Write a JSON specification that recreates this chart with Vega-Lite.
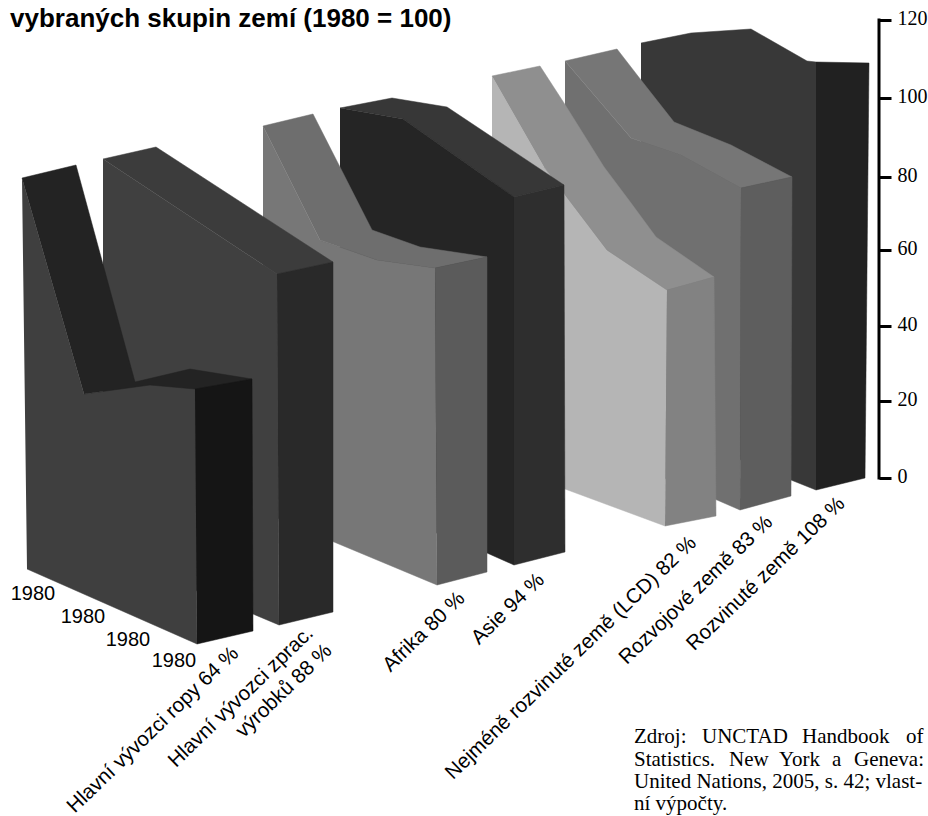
{"$schema":"https://vega.github.io/schema/vega-lite/v6.json","width":928,"height":816,"padding":0,"autosize":{"type":"none"},"background":"white","config":{"view":{"stroke":null}},
"datasets":{
"poly":[
{"p":"Rozvinuté bok","o":1,"x":641,"y":43},{"p":"Rozvinuté bok","o":2,"x":691,"y":33},{"p":"Rozvinuté bok","o":3,"x":751,"y":29},{"p":"Rozvinuté bok","o":4,"x":807,"y":61},{"p":"Rozvinuté bok","o":5,"x":816,"y":62},{"p":"Rozvinuté bok","o":6,"x":816,"y":490},{"p":"Rozvinuté bok","o":7,"x":791,"y":480},{"p":"Rozvinuté bok","o":8,"x":641,"y":420},
{"p":"Rozvinuté čelo","o":1,"x":816,"y":62},{"p":"Rozvinuté čelo","o":2,"x":869,"y":63},{"p":"Rozvinuté čelo","o":3,"x":865,"y":478},{"p":"Rozvinuté čelo","o":4,"x":816,"y":490},
{"p":"Rozvojové bok","o":1,"x":565,"y":61},{"p":"Rozvojové bok","o":2,"x":631,"y":138},{"p":"Rozvojové bok","o":3,"x":681,"y":155},{"p":"Rozvojové bok","o":4,"x":741,"y":188},{"p":"Rozvojové bok","o":5,"x":740,"y":510},{"p":"Rozvojové bok","o":6,"x":717,"y":500},{"p":"Rozvojové bok","o":7,"x":565,"y":437},
{"p":"Rozvojové vrch","o":1,"x":565,"y":61},{"p":"Rozvojové vrch","o":2,"x":617,"y":49},{"p":"Rozvojové vrch","o":3,"x":641,"y":80},{"p":"Rozvojové vrch","o":4,"x":674,"y":122},{"p":"Rozvojové vrch","o":5,"x":731,"y":145},{"p":"Rozvojové vrch","o":6,"x":792,"y":177},{"p":"Rozvojové vrch","o":7,"x":741,"y":188},{"p":"Rozvojové vrch","o":8,"x":681,"y":155},{"p":"Rozvojové vrch","o":9,"x":631,"y":138},
{"p":"Rozvojové čelo","o":1,"x":741,"y":188},{"p":"Rozvojové čelo","o":2,"x":792,"y":177},{"p":"Rozvojové čelo","o":3,"x":791,"y":496},{"p":"Rozvojové čelo","o":4,"x":740,"y":510},
{"p":"LCD bok","o":1,"x":492,"y":76},{"p":"LCD bok","o":2,"x":544,"y":167},{"p":"LCD bok","o":3,"x":607,"y":250},{"p":"LCD bok","o":4,"x":667,"y":290},{"p":"LCD bok","o":5,"x":665,"y":526},{"p":"LCD bok","o":6,"x":565,"y":489},{"p":"LCD bok","o":7,"x":492,"y":460},
{"p":"LCD vrch","o":1,"x":492,"y":76},{"p":"LCD vrch","o":2,"x":540,"y":66},{"p":"LCD vrch","o":3,"x":564,"y":103},{"p":"LCD vrch","o":4,"x":604,"y":167},{"p":"LCD vrch","o":5,"x":631,"y":203},{"p":"LCD vrch","o":6,"x":656,"y":237},{"p":"LCD vrch","o":7,"x":714,"y":277},{"p":"LCD vrch","o":8,"x":667,"y":290},{"p":"LCD vrch","o":9,"x":607,"y":250},{"p":"LCD vrch","o":10,"x":544,"y":167},
{"p":"LCD čelo","o":1,"x":667,"y":290},{"p":"LCD čelo","o":2,"x":714,"y":277},{"p":"LCD čelo","o":3,"x":716,"y":516},{"p":"LCD čelo","o":4,"x":665,"y":526},
{"p":"Asie vrch","o":1,"x":340,"y":108},{"p":"Asie vrch","o":2,"x":392,"y":98},{"p":"Asie vrch","o":3,"x":447,"y":107},{"p":"Asie vrch","o":4,"x":564,"y":185},{"p":"Asie vrch","o":5,"x":514,"y":197},{"p":"Asie vrch","o":6,"x":403,"y":119},
{"p":"Asie bok","o":1,"x":340,"y":108},{"p":"Asie bok","o":2,"x":403,"y":119},{"p":"Asie bok","o":3,"x":514,"y":197},{"p":"Asie bok","o":4,"x":514,"y":565},{"p":"Asie bok","o":5,"x":487,"y":553},{"p":"Asie bok","o":6,"x":340,"y":495},
{"p":"Asie čelo","o":1,"x":514,"y":197},{"p":"Asie čelo","o":2,"x":564,"y":185},{"p":"Asie čelo","o":3,"x":565,"y":552},{"p":"Asie čelo","o":4,"x":514,"y":565},
{"p":"Afrika bok","o":1,"x":263,"y":126},{"p":"Afrika bok","o":2,"x":320,"y":240},{"p":"Afrika bok","o":3,"x":377,"y":260},{"p":"Afrika bok","o":4,"x":435,"y":268},{"p":"Afrika bok","o":5,"x":437,"y":585},{"p":"Afrika bok","o":6,"x":334,"y":542},{"p":"Afrika bok","o":7,"x":263,"y":512},
{"p":"Afrika vrch","o":1,"x":263,"y":126},{"p":"Afrika vrch","o":2,"x":313,"y":114},{"p":"Afrika vrch","o":3,"x":372,"y":230},{"p":"Afrika vrch","o":4,"x":420,"y":247},{"p":"Afrika vrch","o":5,"x":487,"y":257},{"p":"Afrika vrch","o":6,"x":435,"y":268},{"p":"Afrika vrch","o":7,"x":377,"y":260},{"p":"Afrika vrch","o":8,"x":320,"y":240},
{"p":"Afrika čelo","o":1,"x":435,"y":268},{"p":"Afrika čelo","o":2,"x":487,"y":257},{"p":"Afrika čelo","o":3,"x":487,"y":572},{"p":"Afrika čelo","o":4,"x":437,"y":585},
{"p":"Zprac bok","o":1,"x":103,"y":159},{"p":"Zprac bok","o":2,"x":277,"y":274},{"p":"Zprac bok","o":3,"x":279,"y":625},{"p":"Zprac bok","o":4,"x":253,"y":614},{"p":"Zprac bok","o":5,"x":103,"y":552},
{"p":"Zprac vrch","o":1,"x":103,"y":159},{"p":"Zprac vrch","o":2,"x":156,"y":147},{"p":"Zprac vrch","o":3,"x":333,"y":262},{"p":"Zprac vrch","o":4,"x":277,"y":274},
{"p":"Zprac čelo","o":1,"x":277,"y":274},{"p":"Zprac čelo","o":2,"x":333,"y":262},{"p":"Zprac čelo","o":3,"x":333,"y":612},{"p":"Zprac čelo","o":4,"x":279,"y":625},
{"p":"Ropa bok","o":1,"x":22,"y":178},{"p":"Ropa bok","o":2,"x":84,"y":394},{"p":"Ropa bok","o":3,"x":150,"y":385},{"p":"Ropa bok","o":4,"x":195,"y":389},{"p":"Ropa bok","o":5,"x":197,"y":644},{"p":"Ropa bok","o":6,"x":27,"y":569},
{"p":"Ropa vrch","o":1,"x":22,"y":178},{"p":"Ropa vrch","o":2,"x":76,"y":165},{"p":"Ropa vrch","o":3,"x":135,"y":382},{"p":"Ropa vrch","o":4,"x":190,"y":369},{"p":"Ropa vrch","o":5,"x":252,"y":379},{"p":"Ropa vrch","o":6,"x":195,"y":389},{"p":"Ropa vrch","o":7,"x":150,"y":385},{"p":"Ropa vrch","o":8,"x":84,"y":394},
{"p":"Ropa čelo","o":1,"x":195,"y":389},{"p":"Ropa čelo","o":2,"x":252,"y":379},{"p":"Ropa čelo","o":3,"x":253,"y":631},{"p":"Ropa čelo","o":4,"x":197,"y":644}
]},
"layer":[
{"data":{"name":"poly"},"mark":{"type":"line","strokeWidth":0.5,"interpolate":"linear"},
"encoding":{
"x":{"field":"x","type":"quantitative","scale":{"domain":[0,928],"nice":false,"zero":false},"axis":null},
"y":{"field":"y","type":"quantitative","scale":{"domain":[816,0],"nice":false,"zero":false},"axis":null},
"order":{"field":"o","type":"quantitative"},
"fill":{"field":"p","type":"nominal","legend":null,"scale":{
"domain":["Rozvinuté bok","Rozvinuté čelo","Rozvojové bok","Rozvojové vrch","Rozvojové čelo","LCD bok","LCD vrch","LCD čelo","Asie vrch","Asie bok","Asie čelo","Afrika bok","Afrika vrch","Afrika čelo","Zprac bok","Zprac vrch","Zprac čelo","Ropa bok","Ropa vrch","Ropa čelo"],
"range":["#383838","#212121","#707070","#767676","#5e5e5e","#b5b5b5","#8f8f8f","#828282","#373737","#252525","#2e2e2e","#777777","#6e6e6e","#5b5b5b","#404040","#3c3c3c","#292929","#3f3f3f","#232323","#151515"]}},
"stroke":{"field":"p","type":"nominal","legend":null,"scale":{
"domain":["Rozvinuté bok","Rozvinuté čelo","Rozvojové bok","Rozvojové vrch","Rozvojové čelo","LCD bok","LCD vrch","LCD čelo","Asie vrch","Asie bok","Asie čelo","Afrika bok","Afrika vrch","Afrika čelo","Zprac bok","Zprac vrch","Zprac čelo","Ropa bok","Ropa vrch","Ropa čelo"],
"range":["#383838","#212121","#707070","#767676","#5e5e5e","#b5b5b5","#8f8f8f","#828282","#373737","#252525","#2e2e2e","#777777","#6e6e6e","#5b5b5b","#404040","#3c3c3c","#292929","#3f3f3f","#232323","#151515"]}}
}},
{"data":{"values":[{"x":879,"v":0},{"x":879,"v":120}]},"mark":{"type":"line","stroke":"black","strokeWidth":3,"strokeCap":"square"},
"encoding":{
"x":{"field":"x","type":"quantitative","scale":{"domain":[0,928],"nice":false,"zero":false},"axis":null},
"y":{"field":"v","type":"quantitative","scale":{"domain":[0,20,40,60,80,100,120],"range":[478,401,326,250,177,98,20]},
"axis":{"orient":"right","offset":-49,"values":[0,20,40,60,80,100,120],"domain":false,"grid":false,"title":null,"tickSize":12,"tickWidth":3,"tickColor":"black","labelPadding":6,"labelFont":"Liberation Serif","labelFontSize":20,"labelColor":"black","labelOffset":-2,"labelOverlap":false,"labelBound":false,"labelFlush":false}}
}},
{"data":{"values":[
{"t":"vybraných skupin zemí (1980 = 100)","x":10,"y":27}
]},"mark":{"type":"text","font":"Liberation Sans","fontWeight":"bold","fontSize":26,"align":"left","baseline":"alphabetic","color":"black"},
"encoding":{"x":{"field":"x","type":"quantitative","scale":{"domain":[0,928],"nice":false,"zero":false},"axis":null},"y":{"field":"y","type":"quantitative","scale":{"domain":[816,0],"nice":false,"zero":false},"axis":null},"text":{"field":"t"}}},
{"data":{"values":[
{"t":"Hlavní vývozci ropy 64 %","x":153,"y":730},
{"t":"Hlavní vývozci zprac.","x":241,"y":697},
{"t":"výrobků 88 %","x":284,"y":691},
{"t":"Afrika 80 %","x":424,"y":632},
{"t":"Asie 94 %","x":508,"y":609},
{"t":"Nejméně rozvinuté země (LCD) 82 %","x":571,"y":658},
{"t":"Rozvojové země 83 %","x":696,"y":590},
{"t":"Rozvinuté země 108 %","x":766,"y":574}
]},"mark":{"type":"text","font":"Liberation Sans","fontSize":20.5,"angle":316,"align":"center","baseline":"middle","color":"black"},
"encoding":{"x":{"field":"x","type":"quantitative","scale":{"domain":[0,928],"nice":false,"zero":false},"axis":null},"y":{"field":"y","type":"quantitative","scale":{"domain":[816,0],"nice":false,"zero":false},"axis":null},"text":{"field":"t"}}},
{"data":{"values":[
{"t":"1980","x":33,"y":594},{"t":"1980","x":83,"y":617},{"t":"1980","x":128,"y":640},{"t":"1980","x":174,"y":661}
]},"mark":{"type":"text","font":"Liberation Sans","fontSize":20,"align":"center","baseline":"middle","color":"black"},
"encoding":{"x":{"field":"x","type":"quantitative","scale":{"domain":[0,928],"nice":false,"zero":false},"axis":null},"y":{"field":"y","type":"quantitative","scale":{"domain":[816,0],"nice":false,"zero":false},"axis":null},"text":{"field":"t"}}},
{"data":{"values":[
{"t":"Zdroj:","x":634,"y":743},{"t":"UNCTAD","x":702,"y":743},{"t":"Handbook","x":802,"y":743},{"t":"of","x":906,"y":743},
{"t":"Statistics.","x":634,"y":766},{"t":"New","x":729,"y":766},{"t":"York","x":779,"y":766},{"t":"a","x":832,"y":766},{"t":"Geneva:","x":854,"y":766},
{"t":"United Nations, 2005, s. 42; vlast-","x":634,"y":788},
{"t":"ní výpočty.","x":634,"y":810}
]},"mark":{"type":"text","font":"Liberation Serif","fontSize":21,"align":"left","baseline":"alphabetic","color":"black"},
"encoding":{"x":{"field":"x","type":"quantitative","scale":{"domain":[0,928],"nice":false,"zero":false},"axis":null},"y":{"field":"y","type":"quantitative","scale":{"domain":[816,0],"nice":false,"zero":false},"axis":null},"text":{"field":"t"}}}
],
"resolve":{"scale":{"y":"independent"},"axis":{"y":"independent"}}}
